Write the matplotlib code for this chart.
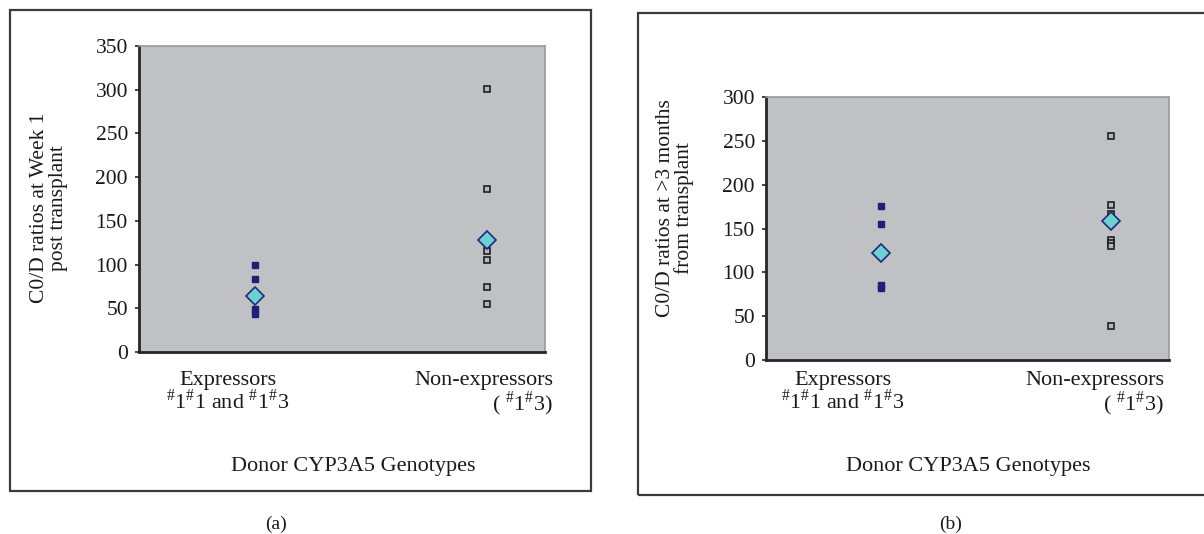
import matplotlib
matplotlib.use("Agg")
import matplotlib.pyplot as plt
from matplotlib.patches import Rectangle
import numpy as np

plt.rcParams['font.family'] = ['Liberation Serif', 'DejaVu Serif']
plt.rcParams['mathtext.fontset'] = 'custom'
plt.rcParams['mathtext.rm'] = 'Liberation Serif'

# Donnees
categories = ["Expressors", "Non-expressors"]
cat_lines2 = [r"$^{\#}$1$^{\#}$1 and $^{\#}$1$^{\#}$3", r"( $^{\#}$1$^{\#}$3)"]

a_expr = [100, 83, 49, 44]
a_expr_mean = 64
a_non = [301, 187, 116, 105, 74, 55]
a_non_mean = 128

b_expr = [176, 155, 86, 82]
b_expr_mean = 122
b_non = [256, 177, 167, 137, 133, 130, 39]
b_non_mean = 158

a_yticks = [0, 50, 100, 150, 200, 250, 300, 350]
b_yticks = [0, 50, 100, 150, 200, 250, 300]

ylabels = ["C0/D ratios at Week 1\npost transplant",
           "C0/D ratios at >3 months\nfrom transplant"]
xlabel = "Donor CYP3A5 Genotypes"
captions = ["(a)", "(b)"]

W, H = 1204, 534
fig = plt.figure(figsize=(W / 100, H / 100), dpi=100)


def fx(px):
    return px / W


def fy(py):
    return 1 - py / H


# Cadres des deux panneaux
fig.add_artist(Rectangle((fx(10), fy(491)), fx(581), 481 / H, transform=fig.transFigure,
                         fill=False, edgecolor='#3a3a3a', linewidth=1.6))
fig.add_artist(Rectangle((fx(638), fy(495)), fx(600), 482 / H, transform=fig.transFigure,
                         fill=False, edgecolor='#3a3a3a', linewidth=1.6))

panels = [
    dict(box=(139, 545, 46, 352), ex=a_expr, exm=a_expr_mean, ne=a_non, nem=a_non_mean,
         ymax=350, ticks=a_yticks, ylab=ylabels[0], ylab_x=49,
         expr_cx=228, non_rx=553, xlab_cx=353, cap_cx=276),
    dict(box=(766, 1169, 97, 360), ex=b_expr, exm=b_expr_mean, ne=b_non, nem=b_non_mean,
         ymax=300, ticks=b_yticks, ylab=ylabels[1], ylab_x=675,
         expr_cx=843, non_rx=1164, xlab_cx=968, cap_cx=951),
]

txt = dict(color='#1a1a1a', fontsize=16)

for i, p in enumerate(panels):
    l, r, t, b = p['box']
    ax = fig.add_axes([fx(l), fy(b), fx(r - l), (b - t) / H])
    ax.set_facecolor('#c0c1c5')
    ax.set_xlim(0.5, 2.25)
    ax.set_ylim(0, p['ymax'])
    ax.set_yticks(p['ticks'])
    ax.set_xticks([])
    ax.tick_params(axis='y', direction='out', length=3, width=1.2, color='#222222',
                   labelsize=15.5, pad=5, labelcolor='#1a1a1a')
    for s in ['left', 'bottom']:
        ax.spines[s].set_color('#262626')
        ax.spines[s].set_linewidth(2)
    for s in ['top', 'right']:
        ax.spines[s].set_color('#9a9a9a')
        ax.spines[s].set_linewidth(1.2)

    # points individuels
    ax.plot(np.full(len(p['ex']), 1.0), p['ex'], 's', color='#1f1f7a', markersize=4.5,
            markeredgecolor='#1f1f7a', clip_on=False)
    ax.plot(np.full(len(p['ne']), 2.0), p['ne'], 's', color='#b8b8bc', markersize=4.5,
            markeredgecolor='#202020', markeredgewidth=1.2, clip_on=False)
    # moyennes
    ax.plot([1.0], [p['exm']], 'D', markersize=9, markerfacecolor='#6fd0d2',
            markeredgecolor='#1f2a7a', markeredgewidth=1.2)
    ax.plot([2.0], [p['nem']], 'D', markersize=9, markerfacecolor='#6fd0d2',
            markeredgecolor='#1f2a7a', markeredgewidth=1.2)

    # libelles des categories
    fig.text(fx(p['expr_cx']), fy(371), categories[0] + "\n" + cat_lines2[0],
             ha='center', va='top', linespacing=0.95, multialignment='center', **txt)
    fig.text(fx(p['non_rx']), fy(371), categories[1] + "\n" + cat_lines2[1],
             ha='right', va='top', linespacing=0.95, multialignment='right', **txt)

    fig.text(fx(p['xlab_cx']), fy(467), xlabel, ha='center', va='center', **txt)
    fig.text(fx(p['ylab_x']), fy(208), p['ylab'], ha='center', va='center', rotation=90,
             linespacing=0.95, color='#1a1a1a', fontsize=15.5)
    fig.text(fx(p['cap_cx']), fy(524), captions[i], ha='center', va='center',
             fontsize=14, color='#1a1a1a')

fig.savefig("out.png", dpi=100, facecolor='white')
